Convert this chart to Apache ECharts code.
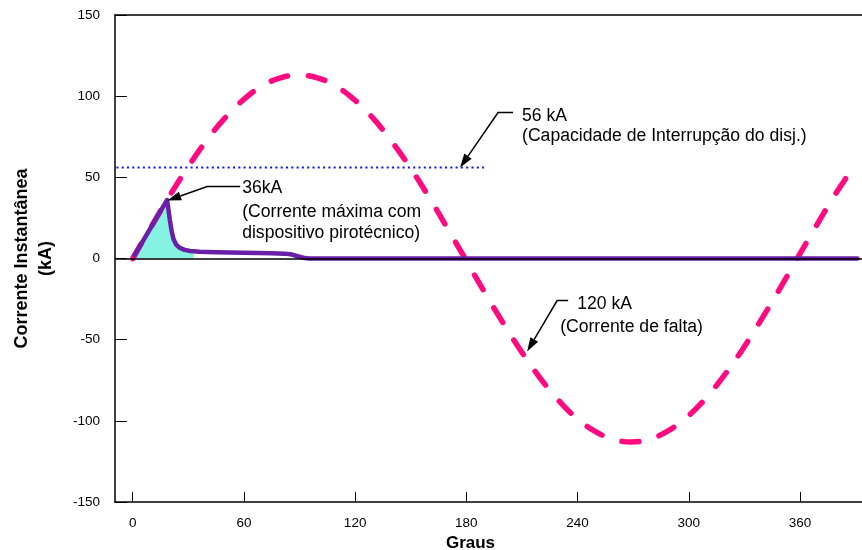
<!DOCTYPE html>
<html>
<head>
<meta charset="utf-8">
<script src="https://cdn.jsdelivr.net/npm/echarts@6/dist/echarts.min.js"></script>
<style>
html,body{margin:0;padding:0;background:#fff;}
#chart{width:862px;height:550px;}
</style>
</head>
<body>
<div id="chart"></div>
<script>
// ---- data ----
const xTicks = [0, 60, 120, 180, 240, 300, 360];
const yTicks = [-150, -100, -50, 0, 50, 100, 150];

// 120 kA fault current (dashed pink)
const faultDeg = [0, 10, 19.9, 29.9, 39.8, 49.8, 59.8, 69.7, 79.7, 89.6, 99.6, 109.6, 119.5, 129.5, 139.4, 149.4, 159.4, 169.3, 179.3,
                  189.2, 199.2, 209.2, 219.1, 229.1, 239, 249, 259, 268.9, 278.9, 288.8, 298.8, 308.8, 318.7, 328.7, 338.6, 348.6, 358.5,
                  368.5, 378.5, 387.5];
const faultKA = [0, 19.6, 38.6, 56.5, 72.6, 86.6, 97.9, 106.2, 111.3, 113, 111.3, 106.2, 97.9, 86.6, 72.6, 56.5, 38.6, 19.6, 0,
                 -19.6, -38.6, -56.5, -72.6, -86.6, -97.9, -106.2, -111.3, -113, -111.3, -106.2, -97.9, -86.6, -72.6, -56.5, -38.6, -19.6, 0,
                 19.6, 38.6, 54];

// limited current with pyrotechnic device (purple)
const limitedDeg = [1, 18.5, 19.2, 20, 21, 22, 23.5, 25.5, 28, 31, 36, 45, 60, 75, 82, 86, 89, 92, 95, 391];
const limitedKA  = [2, 36, 31, 24, 17, 12, 8.5, 6.5, 5.3, 4.6, 4.1, 3.8, 3.6, 3.3, 3.0, 2.4, 1.4, 0.5, 0, 0];

// cyan area under the pulse
const pulseDeg = [0, 1, 18.5, 19.2, 20, 21, 22, 23.5, 25.5, 28, 31, 33];
const pulseKA  = [0, 2, 36, 31, 24, 17, 12, 8.5, 6.5, 5.3, 4.6, 4.4];

// 56 kA breaker interrupting capacity (dotted blue)
const capacityDeg = [-8.8, 190];
const capacityKA = [56, 56];

// annotations: arrow head anchor in data coordinates
const notes = [
  {at: [18.6, 35.7], lines: ['36kA', '(Corrente máxima com', 'dispositivo pirotécnico)']},
  {at: [176.6, 56], lines: ['56 kA', '(Capacidade de Interrupção do disj.)']},
  {at: [212.8, -57.3], lines: ['120 kA', '(Corrente de falta)']}
];

const zip = (a, b) => a.map((v, i) => [v, b[i]]);
const FONT = 'Liberation Sans, Arial, sans-serif';

const chart = echarts.init(document.getElementById('chart'), null, {renderer: 'canvas'});
chart.setOption({
  animation: false,
  backgroundColor: '#fff',
  grid: {left: 115, right: 0, top: 15, bottom: 48, containLabel: false, outerBoundsMode: 'none'},
  xAxis: [{
    type: 'value', min: -9.55, max: 393.45,
    name: 'Graus', nameLocation: 'middle', nameGap: 33, nameMoveOverlap: false,
    nameTextStyle: {fontFamily: FONT, fontWeight: 'bold', fontSize: 17, color: '#000', padding: [0, 36, 0, 0]},
    axisLine: {onZero: false, lineStyle: {color: '#000', width: 1.5}},
    axisTick: {customValues: xTicks, inside: true, length: 10, lineStyle: {color: '#000', width: 1}},
    axisLabel: {customValues: xTicks, margin: 14, fontFamily: FONT, fontSize: 13.5, color: '#000'},
    splitLine: {show: false}
  }, {
    type: 'value', position: 'top', min: -9.55, max: 393.45,
    axisLine: {show: true, onZero: false, lineStyle: {color: '#000', width: 1.5}},
    axisTick: {show: false}, axisLabel: {show: false}, splitLine: {show: false}
  }],
  yAxis: {
    type: 'value', min: -150, max: 150, interval: 50,
    name: 'Corrente Instantânea\n(kA)', nameLocation: 'middle', nameGap: 57, nameRotate: 90, nameMoveOverlap: false,
    nameTextStyle: {fontFamily: FONT, fontWeight: 'bold', fontSize: 18, color: '#000', lineHeight: 24},
    axisLine: {show: true, onZero: false, lineStyle: {color: '#000', width: 1.5}},
    axisTick: {show: true, inside: true, length: 12, lineStyle: {color: '#000', width: 1}},
    axisLabel: {margin: 15, fontFamily: FONT, fontSize: 13.5, color: '#000'},
    splitLine: {show: false}
  },
  series: [
    {
      type: 'line', data: zip(pulseDeg, pulseKA), symbol: 'none', z: 1,
      lineStyle: {width: 0}, areaStyle: {color: '#86F2E2', opacity: 1}
    },
    {
      type: 'line', data: zip(faultDeg, faultKA), symbol: 'none', smooth: 0.4, z: 2,
      lineStyle: {color: '#FF0A80', width: 5.5, type: [17, 21], cap: 'round'}
    },
    {
      type: 'line', data: zip(limitedDeg, limitedKA), symbol: 'none', z: 3,
      lineStyle: {color: '#6A1FA8', width: 4.5, cap: 'round', join: 'round'}
    },
    {
      type: 'line', data: zip(capacityDeg, capacityKA), symbol: 'none', z: 4,
      lineStyle: {color: '#1010F0', width: 2, type: [2, 3.3]},
      markLine: {
        silent: true, symbol: 'none', label: {show: false},
        lineStyle: {color: '#000', width: 1.5, type: 'solid'},
        data: [{yAxis: 0}]
      }
    }
  ]
});

// arrow annotations built from data anchors
const offs = [
  {knee: [40, -14], end: [73, -14], text: [[75, -12], [75, 12], [75, 33]]},
  {knee: [38, -55], end: [53, -55], text: [[62, -51], [62, -31]]},
  {knee: [30, -51], end: [41, -51], text: [[50, -47], [33, -24]]}
];
const elements = [];
notes.forEach((n, i) => {
  const p = chart.convertToPixel({gridIndex: 0}, n.at);
  const o = offs[i];
  const knee = [p[0] + o.knee[0], p[1] + o.knee[1]];
  const end = [p[0] + o.end[0], p[1] + o.end[1]];
  const dx = knee[0] - p[0], dy = knee[1] - p[1];
  const len = Math.hypot(dx, dy), ux = dx / len, uy = dy / len;
  const hl = 14, hw = 4.5;
  const base = [p[0] + ux * hl, p[1] + uy * hl];
  elements.push({type: 'polyline', z: 100, shape: {points: [base, knee, end]}, style: {stroke: '#000', lineWidth: 1.5, fill: null}});
  elements.push({type: 'polygon', z: 100, shape: {points: [p, [base[0] - uy * hw, base[1] + ux * hw], [base[0] + uy * hw, base[1] - ux * hw]]}, style: {fill: '#000'}});
  n.lines.forEach((t, j) => {
    elements.push({type: 'text', z: 100, x: p[0] + o.text[j][0], y: p[1] + o.text[j][1],
      style: {text: t, font: '17.6px ' + FONT, fill: '#000', verticalAlign: 'middle', align: 'left'}});
  });
});
chart.setOption({graphic: {elements: elements}});
</script>
</body>
</html>
